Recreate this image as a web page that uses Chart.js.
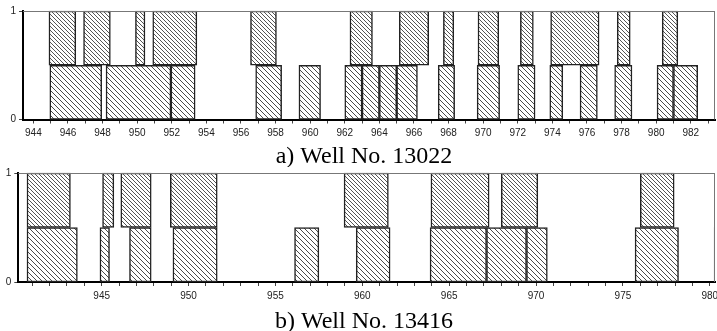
<!DOCTYPE html>
<html><head><meta charset="utf-8">
<script src="https://cdn.jsdelivr.net/npm/chart.js@4"></script>
<style>
html,body{margin:0;padding:0;background:#fff;overflow:hidden;width:717px;height:331px;}
.panel{position:absolute;left:0;width:717px;}
#p1{top:0;height:167px;}
#p2{top:159px;height:172px;}
</style></head><body>
<div class="panel" id="p1"><canvas id="c1"></canvas></div>
<div class="panel" id="p2"><canvas id="c2"></canvas></div>
<script>
// ---- data (depth intervals, m) ----
const TITLE_A = 'a) Well No. 13022';
const TITLE_B = 'b) Well No. 13416';
const DEPTH_RANGE_A = [943.4, 983.4];
const DEPTH_RANGE_B = [940.2, 980.3];
const LABEL_STEP_A = 2;
const LABEL_STEP_B = 5;
const Y_TICKS = [0, 1];
const UPPER_ROW = 0.75;
const LOWER_ROW = 0.25;

const upper13022 = [[944.9,946.45],[946.9,948.45],[949.9,950.45],[950.9,953.45],[956.55,958.05],[962.3,963.6],[965.15,966.85],[967.7,968.3],[969.7,970.9],[972.15,972.9],[973.9,976.7],[977.75,978.5],[980.35,981.25]];
const lower13022 = [[944.95,947.95],[948.2,951.95],[951.95,953.35],[956.85,958.35],[959.35,960.6],[962.0,963.0],[963.0,964.0],[964.0,965.0],[965.0,966.2],[967.4,968.35],[969.65,970.95],[972.0,973.0],[973.85,974.6],[975.6,976.6],[977.6,978.6],[980.05,981.0],[981.0,982.4]];

const upper13416 = [[940.7,943.2],[945.05,945.7],[946.1,947.85],[948.95,951.65],[958.95,961.5],[963.95,967.3],[968.0,970.1],[976.0,977.95]];
const lower13416 = [[940.7,943.6],[944.9,945.45],[946.6,947.85],[949.1,951.65],[956.1,957.5],[959.65,961.6],[963.9,967.15],[967.15,969.45],[969.45,970.65],[975.7,978.2],[980.25,981.5]];

// ---- styling helpers ----
function makeHatch(p, color) {
  const c = document.createElement('canvas');
  c.width = p; c.height = p;
  const g = c.getContext('2d');
  g.fillStyle = '#fff'; g.fillRect(0, 0, p, p);
  g.strokeStyle = color; g.lineWidth = 1;
  g.beginPath();
  g.moveTo(-1, -1); g.lineTo(p + 1, p + 1);
  g.moveTo(-1, p - 1); g.lineTo(1, p + 1);
  g.moveTo(p - 1, -1); g.lineTo(p + 1, 1);
  g.stroke();
  return g.createPattern(c, 'repeat');
}
const hatchUpper = makeHatch(4, '#555');
const hatchLower = makeHatch(5, '#4a4a4a');

const framePlugin = {
  id: 'frame',
  afterDatasetsDraw(chart) {
    const {ctx, chartArea: a} = chart;
    ctx.save();
    ctx.strokeStyle = '#777';
    ctx.lineWidth = 1;
    ctx.beginPath();
    ctx.moveTo(a.left, a.top + 0.5); ctx.lineTo(a.right, a.top + 0.5);
    ctx.moveTo(a.right - 0.5, a.top); ctx.lineTo(a.right - 0.5, a.bottom);
    ctx.stroke();
    ctx.restore();
  }
};

const captionPlugin = {
  id: 'caption',
  afterDraw(chart, args, opts) {
    const ctx = chart.ctx;
    ctx.save();
    ctx.font = opts.font;
    ctx.fillStyle = '#000';
    ctx.textAlign = 'center';
    ctx.textBaseline = 'alphabetic';
    ctx.fillText(opts.text, opts.x, opts.y);
    ctx.restore();
  }
};

const tickFont = {family: '"Liberation Sans", Arial, sans-serif', size: 10};

function buildChart(id, title, upper, lower, range, labelStep, yAxisWidth, xAxisHeight, padTop, padBottom, captionY) {
  const toPoints = (rows, level) => rows.map(([a, b]) => ({x: [a, b], y: level}));
  const ds = (label, rows, level, fill) => ({
    label, data: toPoints(rows, level),
    backgroundColor: fill, borderColor: '#222', borderWidth: 1.5,
    borderSkipped: false, grouped: false,
    categoryPercentage: 1, barPercentage: 1,
    clip: {left: 2, top: 2, right: 0, bottom: 2}
  });
  return new Chart(document.getElementById(id), {
    type: 'bar',
    data: {datasets: [ds('upper', upper, UPPER_ROW, hatchUpper), ds('lower', lower, LOWER_ROW, hatchLower)]},
    options: {
      indexAxis: 'y',
      responsive: true, maintainAspectRatio: false, animation: false,
      devicePixelRatio: 1,
      layout: {padding: {top: padTop, left: 0, right: 2, bottom: padBottom}},
      plugins: {
        legend: {display: false}, tooltip: {enabled: false}, title: {display: false},
        caption: {text: title, x: 364, y: captionY, font: '24px "Liberation Serif", "Times New Roman", serif'}
      },
      scales: {
        x: {
          type: 'linear', min: range[0], max: range[1],
          afterBuildTicks: s => {
            const t = [];
            for (let v = Math.ceil(s.min); v <= Math.floor(s.max); v++) t.push({value: v});
            s.ticks = t;
          },
          ticks: {autoSkip: false, maxRotation: 0, padding: 4, font: tickFont, color: '#222',
            callback: v => (v % labelStep === 0 ? String(v) : '')},
          grid: {display: true, drawOnChartArea: false, drawTicks: true, tickLength: 4, tickColor: '#444', tickWidth: 1},
          border: {display: true, color: '#000', width: 2},
          afterFit: s => { s.height = xAxisHeight; s.paddingLeft = 0; s.paddingRight = 0; }
        },
        y: {
          type: 'linear', min: 0, max: 1, offset: false,
          afterBuildTicks: s => { s.ticks = Y_TICKS.map(v => ({value: v})); },
          ticks: {padding: 3, font: tickFont, color: '#222'},
          grid: {display: true, offset: false, drawOnChartArea: false, drawTicks: true, tickLength: 4, tickColor: '#444', tickWidth: 1},
          border: {display: true, color: '#000', width: 2},
          afterFit: s => { s.width = yAxisWidth; }
        }
      }
    },
    plugins: [framePlugin, captionPlugin]
  });
}

buildChart('c1', TITLE_A, upper13022, lower13022, DEPTH_RANGE_A, LABEL_STEP_A, 23, 23, 11, 24.5, 162.5);
buildChart('c2', TITLE_B, upper13416, lower13416, DEPTH_RANGE_B, LABEL_STEP_B, 18.3, 25, 14, 24, 168.5);
</script>
</body></html>
